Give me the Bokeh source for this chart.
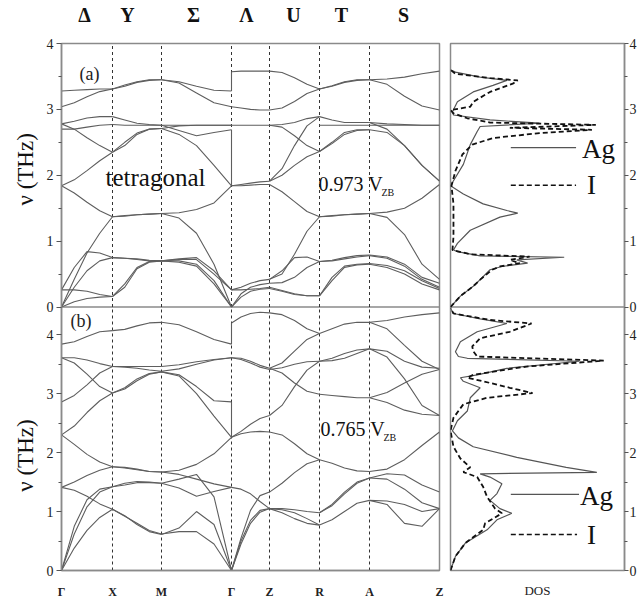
import math
from bokeh.plotting import figure
from bokeh.layouts import row
from bokeh.models import FixedTicker, LinearAxis, Range1d
from bokeh.embed import file_html
from bokeh.resources import INLINE
from bokeh.core.properties import value

SERIF = "Liberation Serif"

# ---------------- data ----------------
kpt_labels = ["Γ", "X", "M", "Γ", "Z", "R", "A", "Z"]
kpt_pos = [0, 51, 100, 170, 208, 258, 308, 378]
path_letters = ["Δ", "Y", "Σ", "Λ", "U", "T", "S"]
path_letter_pos = [23, 66, 132, 185, 232, 280, 342]
seg_frac = [0, 0.25, 0.5, 0.75, 1.0]
freq_ticks = [0, 1, 2, 3, 4]
freq_minor = [0.5, 1.5, 2.5, 3.5]

# panel (a): tetragonal, 0.973 V_ZB  (THz at seg_frac along each segment)
a_GX = [[3.28, 3.29, 3.30, 3.31, 3.31], [3.04, 3.10, 3.19, 3.27, 3.31],
        [2.78, 2.82, 2.87, 2.89, 2.89], [2.70, 2.70, 2.73, 2.76, 2.77],
        [2.78, 2.70, 2.57, 2.45, 2.35], [1.84, 1.93, 2.07, 2.22, 2.35],
        [1.84, 1.73, 1.59, 1.46, 1.37], [0.0, 0.42, 0.82, 1.12, 1.37],
        [0.26, 0.60, 0.84, 0.82, 0.75], [0.26, 0.26, 0.24, 0.19, 0.16],
        [0.0, 0.30, 0.55, 0.70, 0.75], [0.0, 0.08, 0.13, 0.15, 0.16]]
a_XM = [[3.31, 3.37, 3.42, 3.45, 3.45], [3.31, 3.35, 3.41, 3.44, 3.45],
        [2.89, 2.84, 2.79, 2.77, 2.76], [2.77, 2.76, 2.76, 2.76, 2.76],
        [2.35, 2.45, 2.62, 2.70, 2.71], [2.35, 2.50, 2.64, 2.70, 2.71],
        [1.37, 1.39, 1.40, 1.41, 1.42], [1.37, 1.38, 1.40, 1.41, 1.42],
        [0.75, 0.74, 0.73, 0.71, 0.70], [0.75, 0.74, 0.72, 0.70, 0.70],
        [0.16, 0.35, 0.60, 0.69, 0.70], [0.16, 0.30, 0.58, 0.68, 0.70]]
a_MG = [[3.45, 3.42, 3.35, 3.29, 3.28], [3.45, 3.40, 3.25, 3.10, 3.04],
        [2.76, 2.76, 2.76, 2.76, 2.76], [2.76, 2.68, 2.60, 2.65, 2.69],
        [2.71, 2.62, 2.45, 2.15, 1.84], [2.71, 2.75, 2.76, 2.76, 2.76],
        [1.42, 1.43, 1.48, 1.58, 1.84], [1.42, 1.35, 1.12, 0.65, 0.0],
        [0.70, 0.73, 0.75, 0.55, 0.26], [0.70, 0.72, 0.72, 0.50, 0.26],
        [0.70, 0.70, 0.65, 0.40, 0.0], [0.70, 0.68, 0.62, 0.35, 0.0]]
a_GZ = [[3.57, 3.58, 3.58, 3.58, 3.58], [3.04, 3.02, 3.00, 2.99, 2.99],
        [2.76, 2.76, 2.76, 2.76, 2.76], [1.84, 1.86, 1.88, 1.90, 1.91],
        [1.84, 1.84, 1.85, 1.86, 1.86], [0.26, 0.30, 0.36, 0.40, 0.42],
        [0.26, 0.26, 0.27, 0.28, 0.30], [0.0, 0.20, 0.30, 0.34, 0.36],
        [0.0, 0.15, 0.24, 0.27, 0.28]]
a_ZR = [[3.58, 3.56, 3.48, 3.38, 3.31], [2.99, 3.02, 3.12, 3.24, 3.31],
        [2.76, 2.73, 2.60, 2.45, 2.36], [2.76, 2.77, 2.80, 2.86, 2.89],
        [1.91, 2.10, 2.45, 2.75, 2.89], [1.91, 2.00, 2.15, 2.28, 2.36],
        [1.86, 1.75, 1.60, 1.45, 1.37], [0.42, 0.50, 0.80, 1.15, 1.37],
        [0.42, 0.55, 0.75, 0.76, 0.69], [0.36, 0.37, 0.45, 0.60, 0.69],
        [0.30, 0.25, 0.20, 0.17, 0.17], [0.28, 0.24, 0.19, 0.17, 0.17]]
a_RA = [[3.31, 3.36, 3.42, 3.45, 3.45], [3.31, 3.35, 3.41, 3.44, 3.45],
        [2.89, 2.84, 2.80, 2.80, 2.80], [2.76, 2.76, 2.76, 2.76, 2.76],
        [2.36, 2.50, 2.65, 2.69, 2.69], [2.36, 2.48, 2.62, 2.68, 2.69],
        [1.37, 1.39, 1.40, 1.41, 1.42], [1.37, 1.38, 1.40, 1.41, 1.42],
        [0.69, 0.71, 0.75, 0.78, 0.79], [0.69, 0.70, 0.73, 0.76, 0.78],
        [0.17, 0.45, 0.62, 0.65, 0.66], [0.17, 0.40, 0.60, 0.64, 0.65]]
a_AZ = [[3.45, 3.46, 3.49, 3.54, 3.58], [3.45, 3.38, 3.20, 3.05, 2.99],
        [2.80, 2.78, 2.77, 2.76, 2.76], [2.76, 2.76, 2.76, 2.76, 2.76],
        [2.69, 2.65, 2.45, 2.15, 1.91], [2.80, 2.70, 2.45, 2.15, 1.91],
        [1.42, 1.44, 1.50, 1.65, 1.86], [1.42, 1.36, 1.10, 0.65, 0.42],
        [0.79, 0.76, 0.65, 0.45, 0.36], [0.78, 0.74, 0.62, 0.42, 0.30],
        [0.66, 0.63, 0.55, 0.40, 0.28], [0.65, 0.60, 0.50, 0.35, 0.26]]
a_gamma_jumps = [[3.28, 3.57], [2.69, 1.84]]

# panel (b): 0.765 V_ZB
b_GX = [[3.84, 3.88, 3.97, 4.05, 4.07], [3.61, 3.61, 3.57, 3.51, 3.46],
        [3.61, 3.52, 3.33, 3.12, 3.01], [2.86, 2.97, 3.15, 3.35, 3.46],
        [2.30, 2.45, 2.68, 2.88, 3.01], [2.30, 2.14, 1.97, 1.84, 1.76],
        [1.41, 1.50, 1.61, 1.70, 1.76], [1.41, 1.36, 1.26, 1.13, 1.04],
        [0.0, 0.75, 1.20, 1.38, 1.42], [0.0, 0.62, 1.08, 1.33, 1.42],
        [0.0, 0.38, 0.68, 0.90, 1.04]]
b_XM = [[4.07, 4.09, 4.15, 4.20, 4.21], [3.46, 3.46, 3.46, 3.46, 3.46],
        [3.46, 3.45, 3.43, 3.40, 3.38], [3.01, 3.08, 3.22, 3.33, 3.37],
        [3.01, 3.10, 3.25, 3.34, 3.37], [1.76, 1.75, 1.72, 1.68, 1.67],
        [1.76, 1.74, 1.71, 1.68, 1.67], [1.42, 1.48, 1.51, 1.50, 1.48],
        [1.42, 1.45, 1.49, 1.49, 1.48], [1.04, 0.93, 0.78, 0.66, 0.61],
        [1.04, 0.92, 0.80, 0.68, 0.62]]
b_MG = [[4.21, 4.17, 4.05, 3.92, 3.84], [3.46, 3.49, 3.54, 3.58, 3.61],
        [3.38, 3.42, 3.50, 3.57, 3.61], [3.37, 3.32, 3.12, 2.88, 2.86],
        [3.37, 3.30, 3.00, 2.62, 2.26], [1.67, 1.70, 1.80, 1.98, 2.26],
        [1.48, 1.55, 1.63, 1.25, 0.0], [1.48, 1.40, 1.26, 1.34, 1.41],
        [0.61, 0.72, 1.00, 0.78, 0.0], [0.62, 0.66, 0.66, 0.45, 0.0],
        [1.67, 1.63, 1.55, 1.47, 1.41]]
b_GZ = [[4.20, 4.30, 4.36, 4.38, 4.37], [3.61, 3.60, 3.55, 3.48, 3.43],
        [3.61, 3.58, 3.52, 3.45, 3.41], [2.26, 2.36, 2.48, 2.58, 2.63],
        [2.26, 2.32, 2.35, 2.36, 2.35], [1.41, 1.38, 1.30, 1.17, 1.05],
        [0.0, 0.45, 0.80, 0.99, 1.05], [0.0, 0.55, 1.02, 1.27, 1.33],
        [0.0, 0.50, 0.85, 1.02, 1.05]]
b_ZR = [[4.37, 4.34, 4.24, 4.10, 4.02], [3.43, 3.52, 3.72, 3.92, 4.02],
        [3.41, 3.44, 3.50, 3.54, 3.55], [3.43, 3.35, 3.18, 3.04, 2.99],
        [2.63, 2.80, 3.12, 3.40, 3.55], [2.35, 2.30, 2.15, 1.98, 1.88],
        [1.33, 1.48, 1.66, 1.81, 1.88], [1.05, 1.05, 1.03, 1.00, 0.98],
        [1.05, 0.98, 0.88, 0.80, 0.77], [1.05, 1.03, 0.98, 0.88, 0.77]]
b_RA = [[4.02, 4.10, 4.18, 4.21, 4.21], [3.55, 3.60, 3.68, 3.74, 3.76],
        [3.55, 3.56, 3.60, 3.68, 3.76], [2.99, 2.97, 2.95, 2.93, 2.93],
        [1.88, 1.82, 1.74, 1.69, 1.68], [0.98, 1.12, 1.33, 1.50, 1.57],
        [0.77, 0.86, 1.00, 1.14, 1.19], [0.98, 1.10, 1.30, 1.48, 1.57]]
b_AZ = [[4.21, 4.24, 4.30, 4.34, 4.37], [4.21, 4.10, 3.82, 3.55, 3.41],
        [3.76, 3.72, 3.55, 3.45, 3.43], [3.76, 3.62, 3.25, 2.80, 2.63],
        [2.93, 3.02, 3.18, 3.33, 3.41], [1.68, 1.72, 1.88, 2.12, 2.35],
        [1.57, 1.64, 1.62, 1.45, 1.33], [1.57, 1.55, 1.38, 1.15, 1.05],
        [1.19, 1.12, 0.80, 0.75, 1.05], [1.19, 1.18, 1.12, 1.00, 1.05],
        [2.93, 2.85, 2.72, 2.65, 2.63]]
b_gamma_jumps = [[3.84, 4.20], [2.86, 2.26]]

# DOS (arbitrary units) vs frequency (THz)
ag_a_f = [0, 0.165, 0.315, 0.415, 0.565, 0.615, 0.665, 0.715, 0.755, 0.775, 0.84, 0.865, 0.965,
          1.165, 1.365, 1.425, 1.465, 1.565, 1.715, 1.84, 1.965, 2.165, 2.465, 2.665, 2.74, 2.79,
          2.84, 2.915, 2.965, 3.115, 3.265, 3.365, 3.44, 3.49, 3.565, 3.6]
ag_a_d = [0, 10, 23, 30, 40, 52, 78, 67, 115, 30, 7, 3, 7, 20, 50, 68, 57, 33, 13, 0, 5, 13, 20,
          27, 30, 90, 40, 3, 2, 7, 23, 43, 57, 30, 5, 0]
i_a_f = [0, 0.165, 0.315, 0.415, 0.565, 0.615, 0.665, 0.715, 0.765, 0.80, 0.865, 1.065, 1.565,
         1.84, 2.065, 2.315, 2.465, 2.565, 2.64, 2.69, 2.72, 2.765, 2.80, 2.865, 2.94, 2.99, 3.04,
         3.115, 3.265, 3.39, 3.44, 3.475, 3.54, 3.6]
i_a_d = [0, 10, 23, 30, 42, 50, 70, 60, 80, 20, 2, 3, 3, 1, 5, 12, 22, 43, 90, 143, 60, 147, 40,
         17, 3, 0, 20, 23, 40, 63, 68, 40, 5, 0]
ag_b_f = [0, 0.24, 0.465, 0.69, 0.86, 0.97, 1.05, 1.19, 1.305, 1.47, 1.585, 1.64, 1.665, 1.75,
          1.92, 2.10, 2.25, 2.37, 2.54, 2.705, 2.93, 3.1, 3.21, 3.27, 3.32, 3.43, 3.55, 3.6, 3.63,
          3.71, 3.88, 4.05, 4.19, 4.27, 4.36, 4.45]
ag_b_d = [0, 5, 15, 37, 47, 62, 50, 40, 47, 52, 40, 30, 148, 117, 67, 23, 8, 2, 7, 17, 20, 30,
          13, 10, 27, 57, 130, 17, 8, 5, 10, 27, 57, 30, 3, 0]
i_b_f = [0, 0.24, 0.465, 0.69, 0.80, 0.97, 1.05, 1.25, 1.42, 1.585, 1.67, 1.75, 1.9, 2.1, 2.37,
         2.59, 2.82, 2.93, 3.01, 3.1, 3.21, 3.27, 3.32, 3.46, 3.56, 3.63, 3.72, 3.8, 3.94, 4.05,
         4.19, 4.25, 4.36, 4.45]
i_b_d = [0, 5, 15, 33, 35, 52, 45, 37, 33, 27, 13, 20, 10, 3, 0, 3, 13, 37, 83, 60, 33, 17, 23,
         77, 155, 27, 23, 22, 30, 60, 82, 40, 3, 0]

a_segments = [a_GX, a_XM, a_MG, a_GZ, a_ZR, a_RA, a_AZ]
b_segments = [b_GX, b_XM, b_MG, b_GZ, b_ZR, b_RA, b_AZ]

YMAX_A = 4.0     # upper panel spans 0..4 THz
YMAX_B = 4.47    # lower panel spans 0..4.47 THz
DOS_MAX = 176

BAND_COLOR = "#5e5e5e"
FRAME_COLOR = "#8a8a8a"


# each column is one figure; the two panels use their own stacked ranges:
# range "a" puts 0..4 THz in the upper half, range "b" puts 0..4.47 THz in the lower half.
def pos_a(v):
    return 0.5 + v / (2 * YMAX_A)


def pos_b(v):
    return v / (2 * YMAX_B)


tick_positions = [pos_b(v) for v in freq_ticks] + [pos_a(v) for v in freq_ticks]
tick_labels = [str(v) for v in freq_ticks] * 2
minor_positions = [pos_b(v) for v in freq_minor] + [pos_a(v) for v in freq_minor]


def make_fig(width, xmax, left, right, frame=True):
    p = figure(width=width, height=601, x_range=Range1d(0, xmax), y_range=Range1d(0, 1),
               output_backend="svg", toolbar_location=None,
               x_axis_location=None, y_axis_location=None,
               min_border_left=left, min_border_right=right, min_border_top=38, min_border_bottom=30)
    p.extra_y_ranges = {"a": Range1d(-YMAX_A, YMAX_A), "b": Range1d(0, 2 * YMAX_B)}
    p.grid.visible = False
    if frame:
        p.outline_line_color = FRAME_COLOR
        p.outline_line_width = 1.5
        # separator between the panels
        p.line([0, xmax], [0, 0], y_range_name="a", line_color=FRAME_COLOR, line_width=1.5)
    else:
        p.outline_line_color = None
    return p


def freq_axis(tick_out, standoff):
    ax = LinearAxis(ticker=FixedTicker(ticks=tick_positions, minor_ticks=minor_positions),
                    major_label_overrides={k: s for k, s in zip(tick_positions, tick_labels)})
    ax.axis_line_color = FRAME_COLOR
    ax.axis_line_width = 1.5
    ax.major_tick_line_color = "#555555"
    ax.minor_tick_line_color = "#555555"
    ax.major_tick_in = 0
    ax.major_tick_out = tick_out
    ax.minor_tick_in = 0
    ax.minor_tick_out = 3
    ax.major_label_standoff = standoff
    ax.major_label_text_font = SERIF
    ax.major_label_text_font_size = "14px"
    ax.major_label_text_color = "#222222"
    return ax


def draw_bands(p, segments, jumps, ymax, rname):
    inner = kpt_pos[1:-1]
    p.segment(x0=inner, y0=[0] * len(inner), x1=inner, y1=[ymax] * len(inner),
              y_range_name=rname, line_color="#333333", line_width=1, line_dash="3 3")
    xs, ys = [], []
    for i, seg in enumerate(segments):
        k0, k1 = kpt_pos[i], kpt_pos[i + 1]
        kx = [k0 + f * (k1 - k0) for f in seg_frac]
        for curve in seg:
            xs.append(kx)
            ys.append(curve)
    for j in jumps:
        xs.append([kpt_pos[3], kpt_pos[3]])
        ys.append(j)
    p.multi_line(xs=xs, ys=ys, y_range_name=rname, line_color=BAND_COLOR, line_width=1.1)


def txt(p, x, y, s, size, rname, color="#111111", angle=0.0, align="left"):
    p.text(x=[x], y=[y], text=[s], y_range_name=rname, text_font=value(SERIF),
           text_font_size=size, text_baseline="middle", text_color=color,
           angle=angle, text_align=align)


# ---------------- y-label strip ----------------
p0 = make_fig(40, 40, 0, 0, frame=False)
txt(p0, 25, 2.09, "ν (THz)", "23px", "a", angle=math.pi / 2, align="center")
txt(p0, 25, 1.95, "ν (THz)", "23px", "b", angle=math.pi / 2, align="center")

# ---------------- dispersion column ----------------
p1 = make_fig(405, kpt_pos[-1], 21, 6)
p1.add_layout(freq_axis(5, 3), "left")

top_ax = LinearAxis(ticker=FixedTicker(ticks=path_letter_pos),
                    major_label_overrides={k: s for k, s in zip(path_letter_pos, path_letters)})
top_ax.axis_line_color = None
top_ax.major_tick_line_color = None
top_ax.minor_tick_line_color = None
top_ax.major_label_text_font = SERIF
top_ax.major_label_text_font_size = "20px"
top_ax.major_label_text_font_style = "bold"
top_ax.major_label_text_color = "#111111"
top_ax.major_label_standoff = 12
p1.add_layout(top_ax, "above")

bot_ax = LinearAxis(ticker=FixedTicker(ticks=kpt_pos),
                    major_label_overrides={k: s for k, s in zip(kpt_pos, kpt_labels)})
bot_ax.axis_line_color = FRAME_COLOR
bot_ax.axis_line_width = 1.5
bot_ax.major_tick_line_color = None
bot_ax.minor_tick_line_color = None
bot_ax.major_label_text_font = SERIF
bot_ax.major_label_text_font_size = "12px"
bot_ax.major_label_text_font_style = "bold"
bot_ax.major_label_text_color = "#222222"
bot_ax.major_label_standoff = 8
p1.add_layout(bot_ax, "below")

draw_bands(p1, a_segments, a_gamma_jumps, YMAX_A, "a")
draw_bands(p1, b_segments, b_gamma_jumps, YMAX_B, "b")

txt(p1, 18, 3.53, "(a)", "18px", "a", "#222222")
txt(p1, 44, 1.97, "tetragonal", "25px", "a")
txt(p1, 257, 1.86, "0.973 V", "20px", "a")
txt(p1, 320, 1.74, "ZB", "10px", "a")
txt(p1, 9, 4.24, "(b)", "18px", "b", "#222222")
txt(p1, 259, 2.40, "0.765 V", "20px", "b")
txt(p1, 322, 2.25, "ZB", "10px", "b")

# ---------------- DOS column ----------------
p2 = make_fig(194, DOS_MAX, 5, 13)
p2.add_layout(freq_axis(4, 1), "right")
dos_ax = LinearAxis(ticker=FixedTicker(ticks=[]), axis_label="DOS")
dos_ax.axis_line_color = None
dos_ax.axis_label_text_font = SERIF
dos_ax.axis_label_text_font_size = "13px"
dos_ax.axis_label_text_font_style = "normal"
dos_ax.axis_label_text_color = "#222222"
dos_ax.axis_label_standoff = 12
p2.add_layout(dos_ax, "below")

p2.line(ag_a_d, ag_a_f, y_range_name="a", line_color="#555555", line_width=1.2)
p2.line(i_a_d, i_a_f, y_range_name="a", line_color="#111111", line_width=1.8, line_dash="5 3")
p2.line(ag_b_d, ag_b_f, y_range_name="b", line_color="#555555", line_width=1.2)
p2.line(i_b_d, i_b_f, y_range_name="b", line_color="#111111", line_width=1.8, line_dash="5 3")

# legends
p2.line([61, 127], [2.42, 2.42], y_range_name="a", line_color="#555555", line_width=1.2)
p2.line([61, 127], [1.85, 1.85], y_range_name="a", line_color="#111111", line_width=1.5, line_dash="5 3")
txt(p2, 133, 2.40, "Ag", "27px", "a")
txt(p2, 138, 1.85, "I", "27px", "a")
p2.line([61, 130], [1.29, 1.29], y_range_name="b", line_color="#555555", line_width=1.2)
p2.line([61, 128], [0.61, 0.61], y_range_name="b", line_color="#111111", line_width=1.5, line_dash="5 3")
txt(p2, 131, 1.27, "Ag", "27px", "b")
txt(p2, 138, 0.61, "I", "27px", "b")

layout = row(p0, p1, p2)
open("out.html", "w").write(file_html(layout, INLINE))
